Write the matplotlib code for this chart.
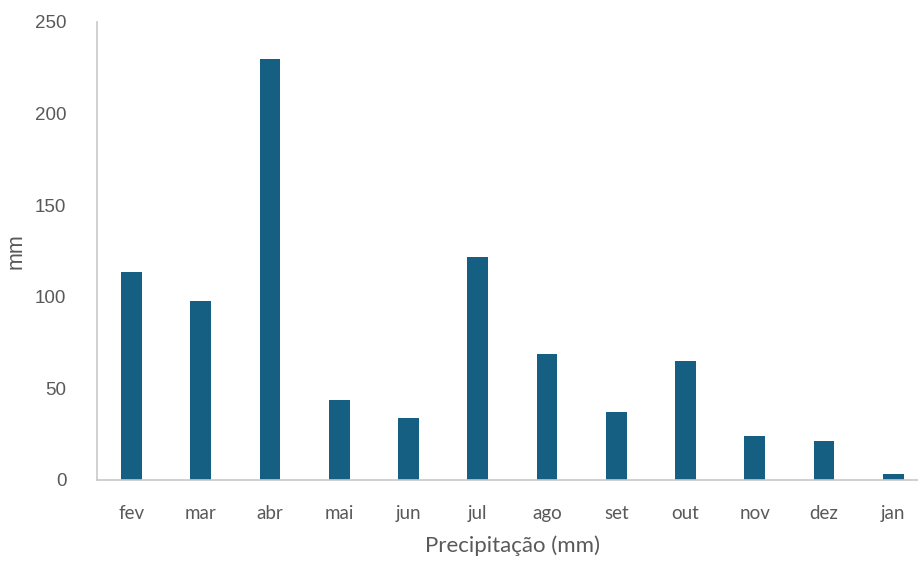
import matplotlib
matplotlib.use("Agg")
import matplotlib.pyplot as plt

months = ["fev", "mar", "abr", "mai", "jun", "jul", "ago", "set", "out", "nov", "dez", "jan"]
precip_mm = [113.6, 97.8, 230.0, 43.6, 33.6, 121.5, 68.6, 37.3, 65.1, 24.0, 21.3, 3.1]
y_ticks = [0, 50, 100, 150, 200, 250]

bar_color = "#156082"
text_color = "#595959"
axis_color = "#c8c8c8"

fig = plt.figure(figsize=(9.18, 5.61), dpi=100)
ax = fig.add_axes([0.1057, 0.1444, 0.905, 0.8164])

x = list(range(len(months)))
ax.bar(x, precip_mm, width=0.3, color=bar_color, zorder=2)

ax.set_xlim(-0.5, len(months) - 0.5)
ax.set_ylim(0, 250)
ax.set_yticks(y_ticks)
ax.set_yticklabels([str(v) for v in y_ticks], fontsize=13.5, color=text_color,
                   family="Liberation Sans")
ax.set_xticks(x)
ax.set_xticklabels(months, fontsize=13.5, color=text_color, family="Lato")
ax.tick_params(axis="both", length=0)
ax.tick_params(axis="y", pad=22)
ax.tick_params(axis="x", pad=18)

for side in ("top", "right"):
    ax.spines[side].set_visible(False)
for side in ("left", "bottom"):
    ax.spines[side].set_color(axis_color)
    ax.spines[side].set_linewidth(1.2)

ax.set_xlabel("Precipitação (mm)", fontsize=16, color=text_color, family="Lato", labelpad=10)
ax.set_ylabel("mm", fontsize=15.5, color=text_color, family="Liberation Sans", labelpad=6)

fig.savefig("out.png", dpi=100, facecolor="white")
